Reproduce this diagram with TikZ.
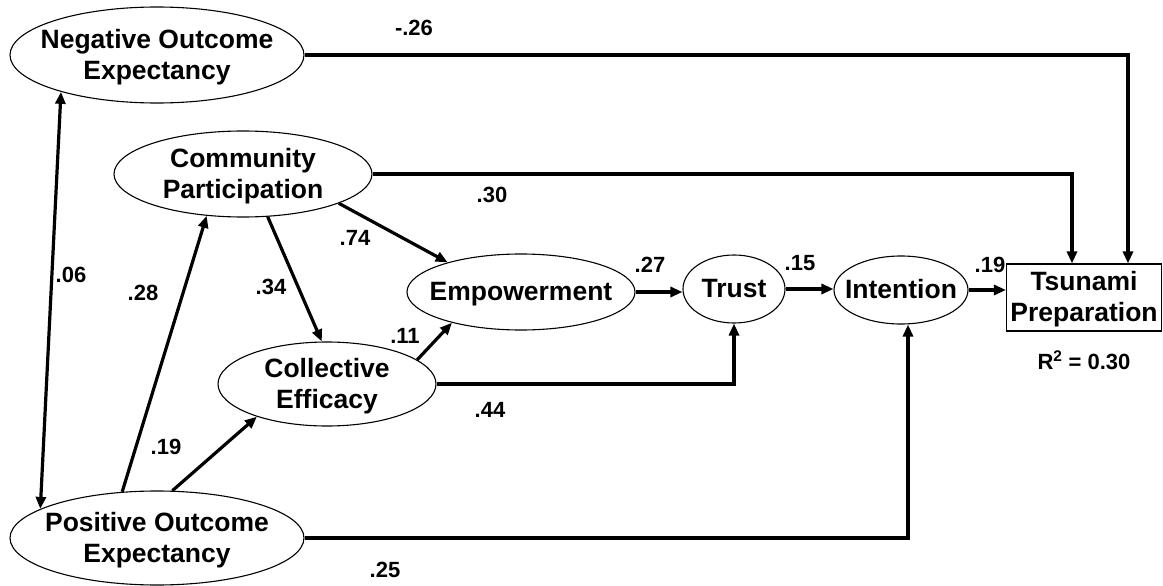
\documentclass[tikz,border=0pt]{standalone}
\usepackage{fontspec}
\setmainfont{Liberation Sans}
\usetikzlibrary{shapes.geometric,arrows.meta}
\newcommand{\zwtext}[1]{\makebox[0pt]{\smash{\raisebox{-9pt}{\begin{tabular}{@{}c@{}}#1\end{tabular}}}}}
\begin{document}
\begin{tikzpicture}[x=1pt,y=-1pt,
  lat/.style={ellipse,draw,line width=1.1pt,inner sep=0pt,
     font=\fontsize{26.5}{31}\selectfont\bfseries},
  obs/.style={rectangle,draw,line width=1.1pt,inner sep=0pt,
     font=\fontsize{26.5}{31}\selectfont\bfseries},
  path/.style={line width=3.2pt,-{Triangle[length=12pt,width=10pt]}},
  both/.style={line width=3.2pt,{Triangle[length=12pt,width=10pt]}-{Triangle[length=12pt,width=10pt]}},
  coef/.style={font=\fontsize{22}{24}\selectfont\bfseries,inner sep=0pt}]
\useasboundingbox (0,0) rectangle (1163,586);
\node[lat,minimum width=294pt,minimum height=96pt] (noe) at (157,55) {\zwtext{Negative Outcome\\Expectancy}};
\node[lat,minimum width=258pt,minimum height=86pt] (cp) at (243,174) {\zwtext{Community\\Participation}};
\node[lat,minimum width=228pt,minimum height=76pt] (emp) at (521,292) {\zwtext{Empowerment}};
\node[lat,minimum width=102pt,minimum height=68pt] (trust) at (734,289) {\zwtext{Trust}};
\node[lat,minimum width=134pt,minimum height=68pt] (int) at (901,290) {\zwtext{Intention}};
\node[obs,minimum width=155pt,minimum height=67pt] (tsu) at (1084,297.5) {\zwtext{Tsunami\\Preparation}};
\node[lat,minimum width=218pt,minimum height=84pt] (ce) at (327,384) {\zwtext{Collective\\Efficacy}};
\node[lat,minimum width=294pt,minimum height=94pt] (poe) at (157,538) {\zwtext{Positive Outcome\\Expectancy}};
\node[coef] (r2) at (1084,360) {R\textsuperscript{2} = 0.30};
% paths
\draw[path] (noe.east) -| ([xshift=44pt]tsu.north);
\draw[path] (cp.east) -| ([xshift=-12pt]tsu.north);
\draw[path] (cp.-17) -- (emp.158);
\draw[path] (cp.-60) -- (ce.97);
\draw[path] (ce.15) -- (emp.-156);
\draw[path] (ce.east) -| (trust.south);
\draw[path] (emp.east) -- (emp.east -| trust.west);
\draw[path] (trust.east) -- (trust.east -| int.west);
\draw[path] (int.east) -- (int.east -| tsu.west);
\draw[path] (poe.east) -| ([xshift=7pt]int.south);
\draw[path] (poe.127) -- (cp.-131);
\draw[path] (poe.72) -- (ce.205);
\draw[both] (noe.201) -- (poe.166);
% coefficients
\node[coef] (c1) at (414,28) {-.26};
\node[coef] (c2) at (492,195) {.30};
\node[coef] (c3) at (355,238) {.74};
\node[coef] (c4) at (271,287) {.34};
\node[coef] (c5) at (143,293) {.28};
\node[coef] (c6) at (71,275) {.06};
\node[coef] (c7) at (405,336) {.11};
\node[coef] (c8) at (650,265) {.27};
\node[coef] (c9) at (800,263) {.15};
\node[coef] (c10) at (990,265) {.19};
\node[coef] (c11) at (490,410) {.44};
\node[coef] (c12) at (166,447) {.19};
\node[coef] (c13) at (385,570) {.25};
\end{tikzpicture}
\end{document}
